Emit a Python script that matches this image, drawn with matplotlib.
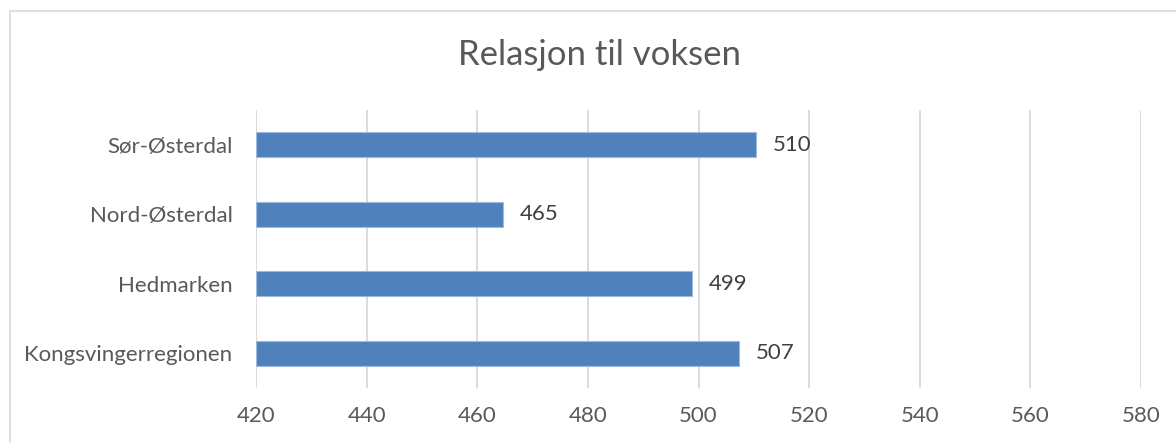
import matplotlib.pyplot as plt
from matplotlib.patches import Rectangle

categories = ["Kongsvingerregionen", "Hedmarken", "Nord-Østerdal", "Sør-Østerdal"]
values = [507.3, 498.8, 464.7, 510.4]
x_ticks = [420, 440, 460, 480, 500, 520, 540, 560, 580]

TXT = "#595959"
plt.rcParams["font.family"] = ["Lato", "DejaVu Sans"]

fig = plt.figure(figsize=(11.76, 4.43), dpi=100)
ax = fig.add_axes([256 / 1176, 1 - 388 / 443, (1141 - 256) / 1176, (388 - 110) / 443])

ypos = range(len(categories))
bars = ax.barh(list(ypos), [v - 420 for v in values], left=420, height=0.36,
               color="#4F81BD", edgecolor="#9DB9DC", linewidth=0.8, zorder=3)
for b, v in zip(bars, values):
    ax.annotate(f"{v:.0f}", (b.get_x() + b.get_width(), b.get_y() + b.get_height() / 2),
                xytext=(12, 0), textcoords="offset points", va="center", ha="left",
                fontsize=16, color="#404040")

ax.set_xlim(420, 580)
ax.set_ylim(-0.5, 3.5)
ax.set_xticks(x_ticks)
ax.set_yticks(list(ypos))
ax.set_yticklabels(categories)
ax.grid(axis="x", color="#D9D9D9", linewidth=1.3, zorder=0)
ax.tick_params(length=0, labelsize=16, colors=TXT)
ax.tick_params(axis="x", pad=13)
ax.tick_params(axis="y", pad=17)
for s in ax.spines.values():
    s.set_visible(False)

fig.text(600 / 1176, 1 - 55 / 443, "Relasjon til voksen", ha="center", va="center",
         fontsize=25, color=TXT)

# chart border (cropped at right/bottom)
fig.patches.append(Rectangle((10 / 1176, -0.1), 1.2, 1 - 11 / 443 + 0.1, transform=fig.transFigure,
                             fill=False, edgecolor="#D9D9D9", linewidth=1.2))

fig.savefig("out.png", dpi=100)
